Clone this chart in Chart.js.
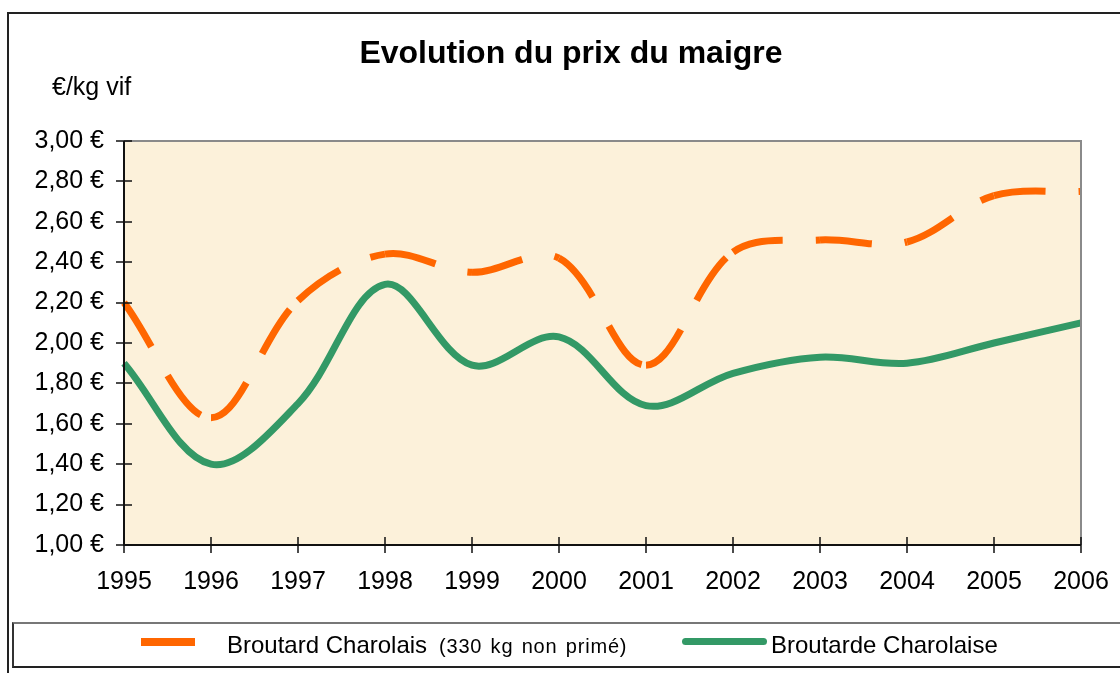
<!DOCTYPE html>
<html>
<head>
<meta charset="utf-8">
<title>Evolution du prix du maigre</title>
<script src="https://cdn.jsdelivr.net/npm/chart.js@4"></script>
<style>
  html, body { margin: 0; padding: 0; background: #fff; overflow: hidden; }
  #wrap { position: relative; width: 1120px; height: 673px; font-family: "Liberation Sans", Arial, sans-serif; color: #000; }
  #c { position: absolute; left: 0; top: 0; }
  .txt { position: absolute; line-height: 1; white-space: nowrap; }
  #outer { position: absolute; left: 7px; top: 12px; width: 1200px; height: 700px; border: 2px solid #222; box-sizing: border-box; }
  #legbox { position: absolute; left: 12px; top: 622px; width: 1200px; height: 46px; box-sizing: border-box;
            border-top: 2px solid #777; border-left: 2px solid #333; border-bottom: 2px solid #222; }
  .sample { position: absolute; }
</style>
</head>
<body>
<div id="wrap">
  <div id="outer"></div>
  <canvas id="c" width="1120" height="673"></canvas>
  <div class="txt" style="left:0;width:1142px;text-align:center;top:36px;font-size:32px;font-weight:bold;">Evolution du prix du maigre</div>
  <div class="txt" style="left:52px;top:74px;font-size:25px;">€/kg vif</div>
  <div id="legbox"></div>
  <div class="sample" style="left:141px;top:638px;width:54px;height:8px;background:#FF6600;"></div>
  <div class="txt" style="left:227px;top:633px;font-size:24px;">Broutard Charolais</div>
  <div class="txt" style="left:439px;top:636px;font-size:20px;letter-spacing:0.8px;word-spacing:2px;">(330 kg non primé)</div>
  <div class="sample" style="left:682px;top:638px;width:85px;height:7px;background:#339966;border-radius:4px;"></div>
  <div class="txt" style="left:771px;top:633px;font-size:24px;">Broutarde Charolaise</div>
</div>
<script>
// Données
const years = ['1995', '1996', '1997', '1998', '1999', '2000', '2001', '2002', '2003', '2004', '2005', '2006'];
const broutard = [2.20, 1.63, 2.21, 2.44, 2.35, 2.42, 1.89, 2.45, 2.51, 2.50, 2.73, 2.75];
const broutarde = [1.90, 1.40, 1.70, 2.29, 1.89, 2.03, 1.69, 1.85, 1.93, 1.90, 2.00, 2.10];
const yTickLabels = ['1,00 €', '1,20 €', '1,40 €', '1,60 €', '1,80 €', '2,00 €', '2,20 €', '2,40 €', '2,60 €', '2,80 €', '3,00 €'];

// Fond du graphique + axes avec graduations croisées
const frame = {
  id: 'frame',
  beforeDraw(chart) {
    const { ctx, chartArea: a } = chart;
    ctx.save();
    ctx.fillStyle = '#FCF1DA';
    ctx.fillRect(a.left, a.top, a.right - a.left, a.bottom - a.top);
    ctx.restore();
  },
  afterDraw(chart) {
    const { ctx, chartArea: a, scales } = chart;
    ctx.save();
    ctx.lineWidth = 2;
    ctx.strokeStyle = '#8a8a8a';
    ctx.beginPath();
    ctx.moveTo(a.left, a.top);
    ctx.lineTo(a.right, a.top);
    ctx.lineTo(a.right, a.bottom);
    ctx.stroke();
    ctx.strokeStyle = '#111';
    ctx.beginPath();
    ctx.moveTo(a.left, a.top);
    ctx.lineTo(a.left, a.bottom);
    ctx.lineTo(a.right, a.bottom);
    ctx.stroke();
    ctx.lineWidth = 1.5;
    ctx.beginPath();
    scales.y.ticks.forEach((t, i) => {
      const y = Math.round(scales.y.getPixelForTick(i));
      ctx.moveTo(a.left - 8, y);
      ctx.lineTo(a.left + 8, y);
    });
    scales.x.ticks.forEach((t, i) => {
      const x = Math.round(scales.x.getPixelForTick(i));
      ctx.moveTo(x, a.bottom - 8);
      ctx.lineTo(x, a.bottom + 8);
    });
    ctx.stroke();
    ctx.restore();
  }
};

const ctx = document.getElementById('c').getContext('2d');
const chart = new Chart(ctx, {
  type: 'line',
  data: {
    labels: years,
    datasets: [{
      label: 'Broutard Charolais (330 kg non primé)',
      data: broutard,
      borderColor: '#FF6600',
      borderWidth: 7,
      borderDash: [52, 33],
      borderCapStyle: 'butt',
      tension: 0.35,
      pointRadius: 0,
      fill: false,
      // le tireté repart à chaque point, comme dans l'original
      segment: {
        borderDashOffset: c => (c.p0DataIndex % 2 ? 0.01 : 0)
      }
    }, {
      label: 'Broutarde Charolaise',
      data: broutarde,
      borderColor: '#339966',
      borderWidth: 7,
      tension: 0.35,
      pointRadius: 0,
      fill: false
    }]
  },
  options: {
    responsive: false,
    animation: false,
    devicePixelRatio: 1,
    layout: { padding: { top: 141, right: 39, left: 0, bottom: 0 } },
    plugins: {
      legend: { display: false },
      title: { display: false },
      tooltip: { enabled: false }
    },
    scales: {
      x: {
        offset: false,
        grid: { display: false, drawTicks: false },
        border: { display: false },
        ticks: {
          color: '#000',
          padding: 22,
          maxRotation: 0,
          autoSkip: false,
          font: { family: "'Liberation Sans', Arial, sans-serif", size: 25 }
        },
        afterFit: s => {
          s.height = 128;
          s.paddingLeft = 0;
          s.paddingRight = 0;
        }
      },
      y: {
        min: 1,
        max: 3,
        grid: { display: false, drawTicks: false },
        border: { display: false },
        ticks: {
          stepSize: 0.2,
          color: '#000',
          padding: 20,
          font: { family: "'Liberation Sans', Arial, sans-serif", size: 25 },
          callback: (v, i) => yTickLabels[i]
        },
        afterFit: s => { s.width = 124; }
      }
    }
  },
  plugins: [frame]
});
</script>
</body>
</html>
